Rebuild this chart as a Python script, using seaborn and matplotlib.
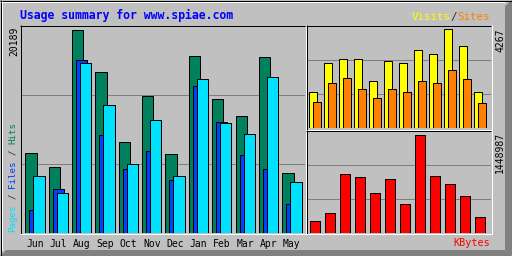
import numpy as np
import pandas as pd
import matplotlib
matplotlib.use("Agg")
import matplotlib.pyplot as plt
import seaborn as sns
from matplotlib.lines import Line2D
from matplotlib.patches import Polygon

months = ["Jun", "Jul", "Aug", "Sep", "Oct", "Nov", "Dec", "Jan", "Feb", "Mar", "Apr", "May"]
hits = [7956, 6465, 20189, 15913, 8951, 13526, 7758, 17504, 13228, 11636, 17405, 5868]
files = [2188, 4277, 17205, 9647, 6365, 8155, 5271, 14521, 10940, 7658, 6365, 2785]
pages = [5570, 3978, 16907, 12631, 6862, 11238, 5570, 15217, 10841, 9747, 15416, 5072]
visits = [1567, 2787, 3004, 2961, 2046, 2917, 2830, 3396, 3179, 4267, 3527, 1567]
sites = [1132, 1959, 2177, 1698, 1263, 1655, 1524, 2046, 1959, 2482, 2090, 1045]
kbytes = [162642, 280927, 857567, 813210, 576639, 783638, 413998, 1448987, 827993, 709709, 532281, 221784]

BG = "#C0C0C0"
C_HITS, C_FILES, C_PAGES = "#00805C", "#0040FF", "#00E0FF"
C_VIS, C_SITES, C_KB = "#FFFF00", "#FF8000", "#FF0000"
MONO = "DejaVu Sans Mono"
ADV = 1233 / 2048  # monospace advance per em

sns.set_style("white")
plt.rcParams["font.family"] = [MONO]

W, H = 512, 256
fig = plt.figure(figsize=(W / 100, H / 100), dpi=100, facecolor=BG)


def fx(x):
    return x / W


def fy(y):
    return 1 - y / H


def ax_at(x0, y0, x1, y1):
    a = fig.add_axes([fx(x0), fy(y1), (x1 - x0) / W, (y1 - y0) / H])
    a.set_facecolor(BG)
    for s in a.spines.values():
        s.set_visible(False)
    a.set_yticks([])
    return a


def hline(x0, x1, y, color, lw=0.72):
    fig.add_artist(Line2D([fx(x0), fx(x1)], [fy(y), fy(y)], color=color, lw=lw,
                          transform=fig.transFigure, solid_capstyle="butt"))


def vline(x, y0, y1, color, lw=0.72):
    fig.add_artist(Line2D([fx(x), fx(x)], [fy(y0), fy(y1)], color=color, lw=lw,
                          transform=fig.transFigure, solid_capstyle="butt"))


def bars(ax, vals, off, width, color):
    df = pd.DataFrame({"pos": np.arange(len(vals)) + off, "val": vals})
    sns.barplot(data=df, x="pos", y="val", native_scale=True, orient="x", width=width,
                color=color, saturation=1, edgecolor="black", linewidth=0.72,
                errorbar=None, ax=ax)


# outer frame / bevel
fig.add_artist(Polygon([(fx(505), fy(6)), (fx(512), fy(0)), (fx(512), fy(256)), (fx(505), fy(250))],
                       closed=True, facecolor="#808080", edgecolor="none", transform=fig.transFigure))
fig.add_artist(Polygon([(fx(0), fy(256)), (fx(6), fy(250)), (fx(505), fy(250)), (fx(512), fy(256))],
                       closed=True, facecolor="#808080", edgecolor="none", transform=fig.transFigure))
hline(0, 512, 0.5, "black")
vline(0.5, 0, 256, "black")
hline(1, 505, 1.5, "white")
vline(1.5, 1, 250, "white")

# ---- main panel (Hits / Files / Pages)
ax = ax_at(21, 26, 305, 232.5)
ymax = max(hits) * (232.5 - 26) / (232.5 - 29.5)
for f in (1 / 3, 2 / 3):
    ax.axhline(ymax * f, color="#808080", lw=0.72, zorder=0.5)
bars(ax, hits, -0.171, 0.484, C_HITS)
bars(ax, files, 0.0, 0.484, C_FILES)
bars(ax, pages, 0.171, 0.484, C_PAGES)
ax.set_ylim(0, ymax)
ax.set_xlim((21 - 34.95) / 23.36, (305 - 34.95) / 23.36)
ax.set_xticks(range(len(months)), months)
ax.tick_params(axis="x", length=0, pad=5, labelsize=7, labelcolor="black")
ax.set_xlabel("")
ax.set_ylabel("")
hline(20, 305, 25.5, "black")
vline(20.5, 25, 233.5, "black")
hline(20, 306, 233.5, "white")
vline(305.5, 25, 234, "white")

# ---- top right panel (Visits / Sites)
ax2 = ax_at(307, 26, 491, 127.5)
ymax2 = max(visits) * (127.5 - 26) / (127.5 - 29.5)
for f in (1 / 3, 2 / 3):
    ax2.axhline(ymax2 * f, color="#808080", lw=0.72, zorder=0.5)
bars(ax2, visits, -0.133, 0.487, C_VIS)
bars(ax2, sites, 0.133, 0.487, C_SITES)
ax2.set_ylim(0, ymax2)
ax2.set_xlim((307 - 315) / 15, (491 - 315) / 15)
ax2.set_xticks([])
ax2.set_xlabel("")
ax2.set_ylabel("")
hline(306, 491, 25.5, "black")
vline(306.5, 25, 129.5, "black")
hline(306, 492, 129.5, "white")
vline(491.5, 25, 130, "white")

# ---- bottom right panel (KBytes)
ax3 = ax_at(307, 131, 491, 232.5)
ymax3 = max(kbytes) * (232.5 - 131) / (232.5 - 134.5)
for f in (1 / 3, 2 / 3):
    ax3.axhline(ymax3 * f, color="#808080", lw=0.72, zorder=0.5)
bars(ax3, kbytes, 0.0, 0.62, C_KB)
ax3.set_ylim(0, ymax3)
ax3.set_xlim((307 - 315) / 15, (491 - 315) / 15)
ax3.set_xticks([])
ax3.set_xlabel("")
ax3.set_ylabel("")
hline(306, 491, 130.5, "black")
vline(306.5, 130, 233.5, "black")
hline(306, 492, 233.5, "white")
vline(491.5, 130, 234, "white")

# ---- texts
fig.text(fx(20), fy(15), "Usage summary for www.spiae.com", color="#0000FF",
         fontsize=8.3, fontweight="bold", ha="left", va="center", family=MONO)
fig.text(fx(14), fy(27), f"{max(hits)}", rotation=90, ha="center", va="top",
         fontsize=7, color="black")
fig.text(fx(500), fy(28), f"{max(visits)}", rotation=90, ha="center", va="top",
         fontsize=7, color="black")
fig.text(fx(500), fy(132), f"{max(kbytes)}", rotation=90, ha="center", va="top",
         fontsize=7, color="black")

# multi-coloured legends, segments placed by monospace character advance
fs_h = 7.8
adv_h = ADV * fs_h * 100 / 72
for start, s, c in [(0, "Visits", C_VIS), (6, "/", "#303030"), (7, "Sites", C_SITES)]:
    fig.text(fx(411.5 + start * adv_h), fy(17), s, color=c, fontsize=fs_h,
             ha="left", va="center")
fig.text(fx(490), fy(243), "KBytes", color=C_KB, fontsize=7.3, ha="right", va="center")

fs_v = 6.6
adv_v = ADV * fs_v * 100 / 72
for start, s, c in [(0, "Pages", C_PAGES), (6, "/", "#303030"), (8, "Files", C_FILES),
                    (14, "/", "#303030"), (16, "Hits", C_HITS)]:
    fig.text(fx(13), fy(232 - start * adv_v), s, color=c, fontsize=fs_v, rotation=90,
             rotation_mode="anchor", ha="left", va="center")

fig.savefig("out.png", dpi=100, facecolor=BG)
